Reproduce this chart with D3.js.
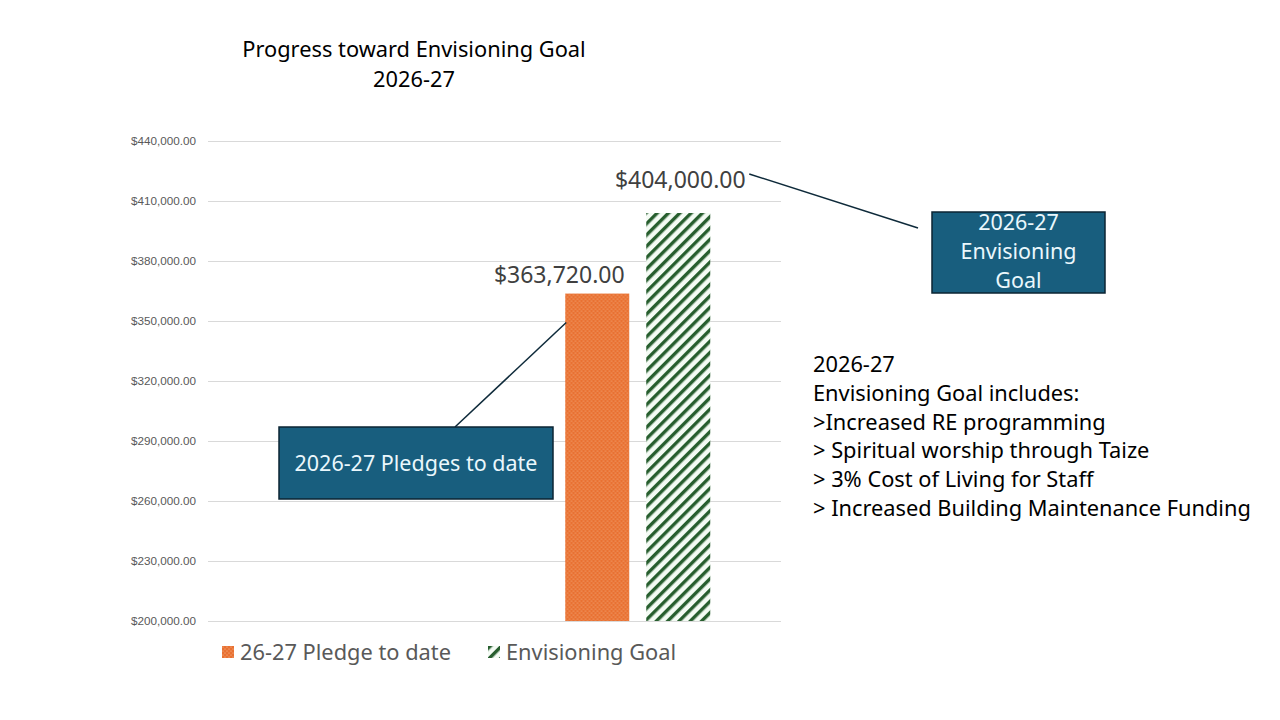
<!DOCTYPE html>
<html>
<head>
<meta charset="utf-8">
<script src="https://cdn.jsdelivr.net/npm/d3@7"></script>
<style>
  body { margin: 0; background: #fff; }
  svg { font-family: "Noto Sans", sans-serif; }
</style>
</head>
<body>
<svg id="chart" width="1280" height="720"></svg>
<script>
// data
const categories = ["", "2026-27"];
const seriesNames = ["26-27 Pledge to date", "Envisioning Goal"];
const pledgeValues = [null, 363720];
const goalValues = [null, 404000];
const yTicks = [200000, 230000, 260000, 290000, 320000, 350000, 380000, 410000, 440000];
const titleLines = ["Progress toward Envisioning Goal", "2026-27"];
const noteLines = [
  "2026-27",
  "Envisioning Goal includes:",
  ">Increased RE programming",
  "> Spiritual worship through Taize",
  "> 3% Cost of Living for Staff",
  "> Increased Building Maintenance Funding"
];

const svg = d3.select("#chart");
const margin = { left: 208, right: 1280 - 781, top: 141, bottom: 720 - 621 };
const width = 1280;
const height = 720;

const defs = svg.append("defs");
const dots = defs.append("pattern")
  .attr("id", "dots")
  .attr("patternUnits", "userSpaceOnUse")
  .attr("width", 4)
  .attr("height", 4);
dots.append("rect").attr("width", 4).attr("height", 4).attr("fill", "#e97132");
dots.append("circle").attr("cx", 1).attr("cy", 1).attr("r", 0.5).attr("fill", "#fad2b2");
dots.append("circle").attr("cx", 3).attr("cy", 3).attr("r", 0.5).attr("fill", "#fad2b2");

const stripes = defs.append("pattern")
  .attr("id", "stripes")
  .attr("patternUnits", "userSpaceOnUse")
  .attr("width", 8)
  .attr("height", 8)
  .attr("patternTransform", "rotate(45)");
stripes.append("rect").attr("width", 8).attr("height", 8).attr("fill", "#f4fbf4");
stripes.append("rect").attr("width", 3.4).attr("height", 8).attr("fill", "#275e2e");

const x0 = d3.scaleBand()
  .domain(categories)
  .range([margin.left, width - margin.right]);

const x1 = d3.scaleBand()
  .domain(seriesNames)
  .range([70.75, x0.bandwidth() - 70.75])
  .paddingInner(17 / 81);

const y = d3.scaleLinear()
  .domain([200000, 440000])
  .range([height - margin.bottom, margin.top]);

const fmt = (v) => "$" + d3.format(",.2f")(v);

// grid + y axis
svg.append("g")
  .attr("class", "y-axis")
  .attr("transform", `translate(${margin.left},0)`)
  .call(d3.axisLeft(y).tickValues(yTicks).tickFormat(fmt)
    .tickSize(-(width - margin.left - margin.right)).tickPadding(12))
  .call((g) => g.select(".domain").remove())
  .call((g) => g.selectAll("line").attr("stroke", "#d9d9d9").attr("stroke-width", 1))
  .call((g) => g.selectAll("text")
    .attr("fill", "#595959")
    .style("font-size", "11.7px"));

const rows = categories.map((c, i) => ({
  cat: c,
  values: [
    { key: seriesNames[0], value: pledgeValues[i], fill: "url(#dots)" },
    { key: seriesNames[1], value: goalValues[i], fill: "url(#stripes)" }
  ]
}));

const groups = svg.append("g")
  .selectAll("g")
  .data(rows)
  .join("g")
  .attr("transform", (d) => `translate(${x0(d.cat)},0)`);

groups.selectAll("rect")
  .data((d) => d.values.filter((v) => v.value != null))
  .join("rect")
  .attr("x", (d) => x1(d.key))
  .attr("width", x1.bandwidth())
  .attr("y", (d) => y(d.value))
  .attr("height", (d) => y(200000) - y(d.value))
  .attr("fill", (d) => d.fill);

// data labels (pledge label was nudged left in the original)
const labelShift = { [seriesNames[0]]: -38, [seriesNames[1]]: 2 };
const labelRise = { [seriesNames[0]]: 11, [seriesNames[1]]: 25 };
groups.selectAll("text.label")
  .data((d) => d.values.filter((v) => v.value != null))
  .join("text")
  .attr("class", "label")
  .attr("x", (d) => x1(d.key) + x1.bandwidth() / 2 + labelShift[d.key])
  .attr("y", (d) => y(d.value) - labelRise[d.key])
  .attr("text-anchor", "middle")
  .attr("fill", "#404040")
  .style("font-size", "23px")
  .text((d) => fmt(d.value));

// title
svg.append("text")
  .attr("x", 414)
  .attr("y", 57)
  .attr("text-anchor", "middle")
  .attr("fill", "#000")
  .style("font-size", "21.8px")
  .selectAll("tspan")
  .data(titleLines)
  .join("tspan")
  .attr("x", 414)
  .attr("dy", (d, i) => (i ? 30 : 0))
  .text((d) => d);

// legend
const legend = svg.append("g").attr("transform", "translate(222,646)");
const legendX = [0, 266];
seriesNames.forEach((name, i) => {
  const item = legend.append("g").attr("transform", `translate(${legendX[i]},0)`);
  item.append("rect")
    .attr("width", 12)
    .attr("height", 12)
    .attr("fill", i === 0 ? "url(#dots)" : "url(#stripes)");
  item.append("text")
    .attr("x", 18)
    .attr("y", 14)
    .attr("fill", "#595959")
    .style("font-size", "21.8px")
    .text(name);
});

// callouts
const barCenter = x0(categories[1]);
const pledgeTop = y(pledgeValues[1]);
const goalTop = y(goalValues[1]);

svg.append("line")
  .attr("x1", 455).attr("y1", 427)
  .attr("x2", barCenter + x1(seriesNames[0]) + 1).attr("y2", pledgeTop + 29)
  .attr("stroke", "#0e2a3a").attr("stroke-width", 1.5);

svg.append("line")
  .attr("x1", 918).attr("y1", 228)
  .attr("x2", barCenter + x1(seriesNames[1]) + x1.bandwidth() + 39).attr("y2", goalTop - 39)
  .attr("stroke", "#0e2a3a").attr("stroke-width", 1.5);

const boxes = [
  { x: 279, y: 427, w: 274, h: 72, lines: ["2026-27 Pledges to date"], ty: 471 },
  { x: 932, y: 212, w: 173, h: 81, lines: ["2026-27", "Envisioning", "Goal"], ty: 230 }
];
boxes.forEach((b) => {
  svg.append("rect")
    .attr("x", b.x).attr("y", b.y)
    .attr("width", b.w).attr("height", b.h)
    .attr("fill", "#185e7e")
    .attr("stroke", "#0b2533").attr("stroke-width", 1.5);
  svg.append("text")
    .attr("text-anchor", "middle")
    .attr("fill", "#eaf7fc")
    .style("font-size", "21.5px")
    .selectAll("tspan")
    .data(b.lines)
    .join("tspan")
    .attr("x", b.x + b.w / 2)
    .attr("y", (d, i) => b.ty + i * 29)
    .text((d) => d);
});

// notes
svg.append("text")
  .attr("fill", "#000")
  .style("font-size", "21.8px")
  .selectAll("tspan")
  .data(noteLines)
  .join("tspan")
  .attr("x", 813)
  .attr("y", (d, i) => 372 + i * 28.8)
  .text((d) => d);
</script>
</body>
</html>
